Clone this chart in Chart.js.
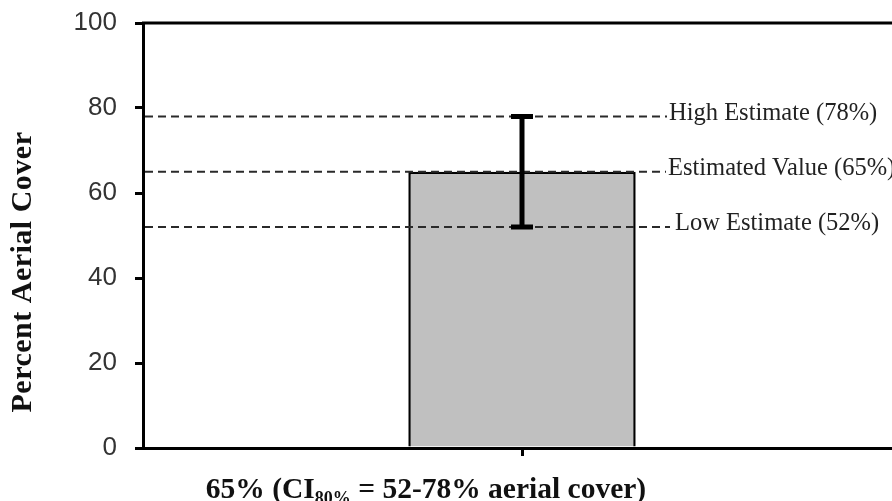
<!DOCTYPE html>
<html>
<head>
<meta charset="utf-8">
<script src="https://cdn.jsdelivr.net/npm/chart.js@4.4.0/dist/chart.umd.min.js"></script>
<style>
  html, body { margin: 0; padding: 0; background: #fff; overflow: hidden; }
  #wrap { position: relative; width: 910px; height: 501px; }
</style>
</head>
<body>
<div id="wrap"><canvas id="chart"></canvas></div>
<script>
// dados do gráfico
const categories = [''];
const estimates = [65];
const lowEstimates = [52];
const highEstimates = [78];
const refValues = [78, 65, 52];
const refLabels = ['High Estimate (78%)', 'Estimated Value (65%)', 'Low Estimate (52%)'];
const yTicks = [0, 20, 40, 60, 80, 100];
const yTitle = 'Percent Aerial Cover';
const xTitleParts = ['65% (CI', '80%', ' = 52-78% aerial cover)'];

// linhas tracejadas, barra de erro e títulos
const extras = {
    id: 'extras',
    afterDatasetsDraw(chart) {
        const ctx = chart.ctx;
        const x = chart.scales.x;
        const y = chart.scales.y;
        const area = chart.chartArea;
        ctx.save();

        // borda superior
        const yTop = y.getPixelForValue(yTicks[yTicks.length - 1]);
        ctx.strokeStyle = '#000';
        ctx.lineWidth = 3;
        ctx.beginPath();
        ctx.moveTo(area.left - 1, yTop);
        ctx.lineTo(area.right + 20, yTop);
        ctx.stroke();

        // linhas de referência
        const textStart = [669, 668, 675];
        const lineEnd = [667, 666, 670];
        ctx.font = '24.5px "Liberation Serif", serif';
        ctx.textBaseline = 'middle';
        ctx.textAlign = 'left';
        refValues.forEach((v, i) => {
            const py = y.getPixelForValue(v);
            ctx.strokeStyle = '#2a2a2a';
            ctx.lineWidth = 2;
            ctx.setLineDash([8, 5]);
            ctx.beginPath();
            ctx.moveTo(area.left + 2, py);
            ctx.lineTo(lineEnd[i], py);
            ctx.stroke();
            ctx.setLineDash([]);
            ctx.fillStyle = '#222';
            ctx.fillText(refLabels[i], textStart[i], py - 3);
        });

        // barra de erro
        estimates.forEach((v, i) => {
            const cx = x.getPixelForValue(i);
            const top = y.getPixelForValue(highEstimates[i]);
            const bot = y.getPixelForValue(lowEstimates[i]);
            ctx.strokeStyle = '#000';
            ctx.lineWidth = 5;
            ctx.beginPath();
            ctx.moveTo(cx, top);
            ctx.lineTo(cx, bot);
            ctx.moveTo(cx - 11, top);
            ctx.lineTo(cx + 11, top);
            ctx.moveTo(cx - 11, bot);
            ctx.lineTo(cx + 11, bot);
            ctx.stroke();
        });

        // título do eixo y
        ctx.fillStyle = '#111';
        ctx.font = 'bold 30px "Liberation Serif", serif';
        ctx.letterSpacing = '0.5px';
        ctx.translate(23, 272);
        ctx.rotate(-Math.PI / 2);
        ctx.textAlign = 'center';
        ctx.textBaseline = 'middle';
        ctx.fillText(yTitle, 0, 0);
        ctx.setTransform(1, 0, 0, 1, 0, 0);
        ctx.letterSpacing = '0px';

        // título do eixo x com subscrito
        const big = 'bold 29.5px "Liberation Serif", serif';
        const small = 'bold 18px "Liberation Serif", serif';
        ctx.font = big;
        const w1 = ctx.measureText(xTitleParts[0]).width;
        const w3 = ctx.measureText(xTitleParts[2]).width;
        ctx.font = small;
        const w2 = ctx.measureText(xTitleParts[1]).width;
        let tx = 426 - (w1 + w2 + w3) / 2;
        const baseY = 498;
        ctx.textAlign = 'left';
        ctx.textBaseline = 'alphabetic';
        ctx.font = big;
        ctx.fillText(xTitleParts[0], tx, baseY);
        tx += w1;
        ctx.font = small;
        ctx.fillText(xTitleParts[1], tx, baseY + 6);
        tx += w2;
        ctx.font = big;
        ctx.fillText(xTitleParts[2], tx, baseY);

        ctx.restore();
    }
};

new Chart(document.getElementById('chart'), {
    type: 'bar',
    data: {
        labels: categories,
        datasets: [{
            data: estimates,
            backgroundColor: '#c0c0c0',
            borderColor: '#000',
            borderWidth: 2.5,
            barPercentage: 0.3,
            categoryPercentage: 1
        }]
    },
    options: {
        responsive: true,
        maintainAspectRatio: false,
        animation: false,
        layout: { padding: { top: 23, right: 9, left: 0, bottom: 0 } },
        plugins: {
            legend: { display: false },
            tooltip: { enabled: false }
        },
        scales: {
            x: {
                afterFit: s => { s.height = 53; s.paddingLeft = 0; s.paddingRight = 0; },
                border: { color: '#000', width: 3 },
                grid: { drawOnChartArea: false, offset: false, tickLength: 8, lineWidth: 3, color: '#000' },
                ticks: { display: false }
            },
            y: {
                min: 0,
                max: 100,
                afterFit: s => { s.width = 143; s.paddingTop = 0; s.paddingBottom = 0; },
                afterBuildTicks: s => { s.ticks = yTicks.map(v => ({ value: v })); },
                border: { color: '#000', width: 3 },
                grid: { drawOnChartArea: false, tickLength: 8, lineWidth: 3, color: '#000' },
                ticks: {
                    padding: 18,
                    color: '#333',
                    font: { family: '"Liberation Sans", Arial, sans-serif', size: 26 }
                }
            }
        }
    },
    plugins: [extras]
});
</script>
</body>
</html>
